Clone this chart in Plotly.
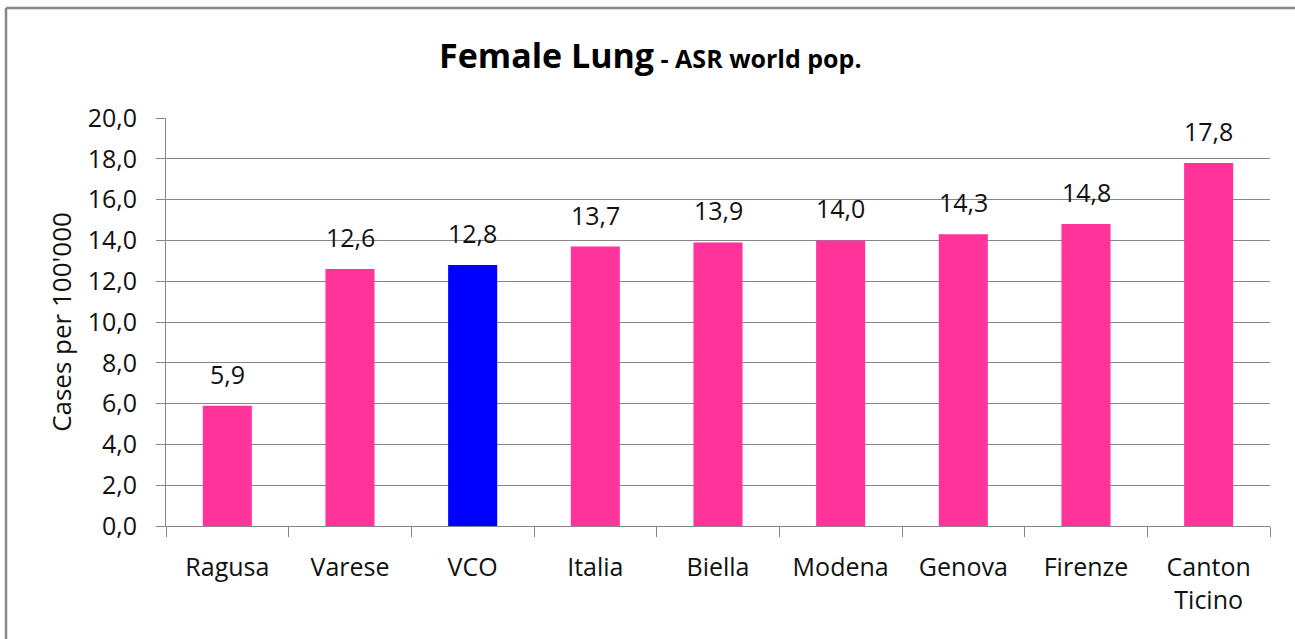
import plotly.graph_objects as go

categories = ["Ragusa", "Varese", "VCO", "Italia", "Biella", "Modena", "Genova", "Firenze", "Canton<br>Ticino"]
values = [5.9, 12.6, 12.8, 13.7, 13.9, 14.0, 14.3, 14.8, 17.8]
highlight = "VCO"
tick_vals = [0, 2, 4, 6, 8, 10, 12, 14, 16, 18, 20]
tick_text = [f"{v:.1f}".replace(".", ",") for v in tick_vals]
value_labels = [f"{v:.1f}".replace(".", ",") for v in values]

PINK = "#FF3399"
BLUE = "#0000FF"
colors = [BLUE if c == highlight else PINK for c in categories]
FONT = "Open Sans"
TXT = "#111111"

W, H = 1295, 639
ML, MR, MT, MB = 166, 25, 118, 113
pw, ph = W - ML - MR, H - MT - MB

def px(x):
    return (x - ML) / pw

def py(y):
    return (H - MB - y) / ph

fig = go.Figure()
fig.add_trace(go.Bar(
    x=categories, y=values, marker=dict(color=colors, line=dict(width=0)),
    width=0.4, hoverinfo="x+y",
))

for c, v, t in zip(categories, values, value_labels):
    fig.add_annotation(x=c, y=v, text=t, showarrow=False, yanchor="bottom",
                       yshift=13, font=dict(family=FONT, size=25, color=TXT))

# title
fig.add_annotation(xref="paper", yref="paper",
                   x=px(650), y=py(55),
                   text="<b><span style='font-size:34px'>Female Lung</span> - ASR world pop.</b>",
                   showarrow=False, xanchor="center", yanchor="middle",
                   font=dict(family=FONT, size=25, color="#000"))

# outer border (left and top visible)
fig.add_shape(type="line", xref="paper", yref="paper",
              x0=px(6), x1=px(6), y0=py(700), y1=py(8),
              line=dict(color="#888888", width=2.5))
fig.add_shape(type="line", xref="paper", yref="paper",
              x0=px(6), x1=px(1310), y0=py(8), y1=py(8),
              line=dict(color="#888888", width=2.5))

fig.update_layout(
    width=W, height=H,
    margin=dict(l=ML, r=MR, t=MT, b=MB, pad=0),
    paper_bgcolor="white", plot_bgcolor="white",
    showlegend=False,
    font=dict(family=FONT, size=25, color=TXT),
    xaxis=dict(
        type="category", showline=True, linecolor="#868686", linewidth=1,
        ticks="outside", tickson="boundaries", ticklen=10, tickcolor="#868686",
        tickfont=dict(family=FONT, size=25, color=TXT), showgrid=False,
        ticklabelstandoff=19,
    ),
    yaxis=dict(
        range=[0, 20], tickvals=tick_vals, ticktext=tick_text,
        showline=True, linecolor="#868686", linewidth=1,
        ticks="outside", ticklen=9, tickcolor="#868686",
        showgrid=True, gridcolor="#868686", gridwidth=1,
        tickfont=dict(family=FONT, size=25, color=TXT),
        ticklabelstandoff=14,
        title=dict(text="Cases per 100'000", font=dict(family=FONT, size=26, color=TXT), standoff=8),
        zeroline=False,
    ),
)

fig.write_html("out.html", config={"displayModeBar": False},
               post_script="document.body.style.margin='0px';")
